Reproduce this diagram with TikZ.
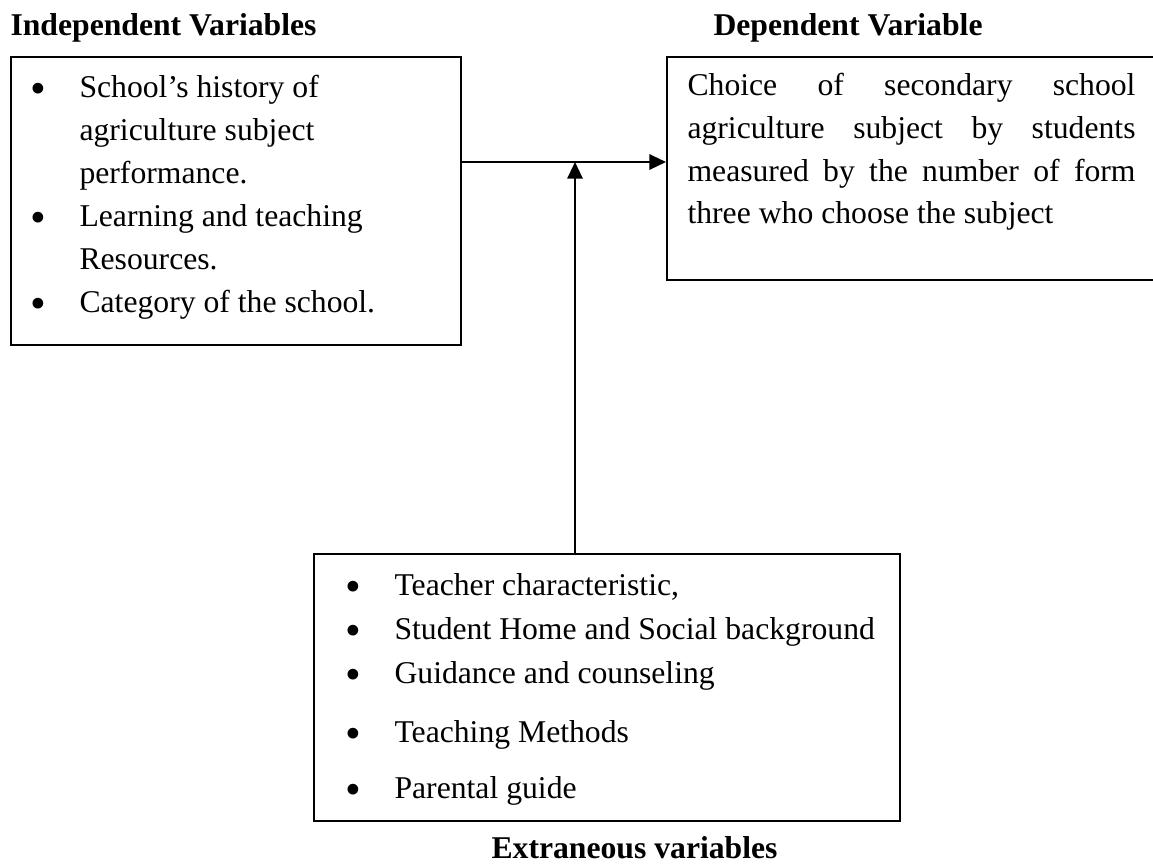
\documentclass[tikz,border=0pt]{standalone}
\usepackage{fontspec}
\setmainfont{Liberation Serif}
\usetikzlibrary{arrows.meta}
\newdimen\pxu \pxu=0.3788pt
\begin{document}
\begin{tikzpicture}[x=0.3788pt,y=-0.3788pt,
  font=\fontsize{12}{14}\selectfont,
  box/.style={draw, line width=0.8pt, inner sep=0, anchor=north west},
  txt/.style={anchor=base west, inner sep=0},
  bul/.style={anchor=base, inner sep=0, font=\fontsize{17}{17}\selectfont},
  hdr/.style={anchor=base west, inner sep=0, font=\fontsize{12}{14}\selectfont\bfseries},
  arr/.style={line width=0.8pt, -{Triangle[length=6.3pt,width=5.8pt]}}]
\useasboundingbox (0,0) rectangle (1153,865);

% headers
\node[hdr] (hIV) at (10,35) {Independent Variables};
\node[hdr] (hDV) at (713,35) {Dependent Variable};
\node[hdr] (hEV) at (491,858) {Extraneous variables};

% boxes
\node[box, minimum width=450\pxu, minimum height=288\pxu] (L) at (10,56) {};
\node[box, minimum width=520\pxu, minimum height=223\pxu] (R) at (666,56) {};
\node[box, minimum width=586\pxu, minimum height=267\pxu] (B) at (313,553) {};

% left box text
\node[bul] (lb1) at (38,103) {\textbullet};
\node[txt] (l1) at (79,97) {School’s history of};
\node[txt] (l2) at (79,140) {agriculture subject};
\node[txt] (l3) at (79,183) {performance.};
\node[bul] (lb2) at (38,232) {\textbullet};
\node[txt] (l4) at (79,226) {Learning and teaching};
\node[txt] (l5) at (79,269) {Resources.};
\node[bul] (lb3) at (38,318) {\textbullet};
\node[txt] (l6) at (79,312) {Category of the school.};

% right box text
\node[txt] (r1) at (687,95) {\makebox[448\pxu][s]{Choice of secondary school}};
\node[txt] (r2) at (687,138) {\makebox[448\pxu][s]{agriculture subject by students}};
\node[txt] (r3) at (687,181) {\makebox[448\pxu][s]{measured by the number of form}};
\node[txt] (r4) at (687,223) {three who choose the subject};

% bottom box text
\node[bul] (bb1) at (353,601) {\textbullet};
\node[txt] (b1) at (394,595) {Teacher characteristic,};
\node[bul] (bb2) at (353,645) {\textbullet};
\node[txt] (b2) at (394,639) {Student Home and Social background};
\node[bul] (bb3) at (353,689) {\textbullet};
\node[txt] (b3) at (394,683) {Guidance and counseling};
\node[bul] (bb4) at (353,748) {\textbullet};
\node[txt] (b4) at (394,742) {Teaching Methods};
\node[bul] (bb5) at (353,804) {\textbullet};
\node[txt] (b5) at (394,798) {Parental guide};

% connectors
\coordinate (J) at (575,162);
\draw[arr] (L.east |- J) -- (R.west |- J);
\draw[arr] (B.north -| J) -- (J);
\end{tikzpicture}
\end{document}
